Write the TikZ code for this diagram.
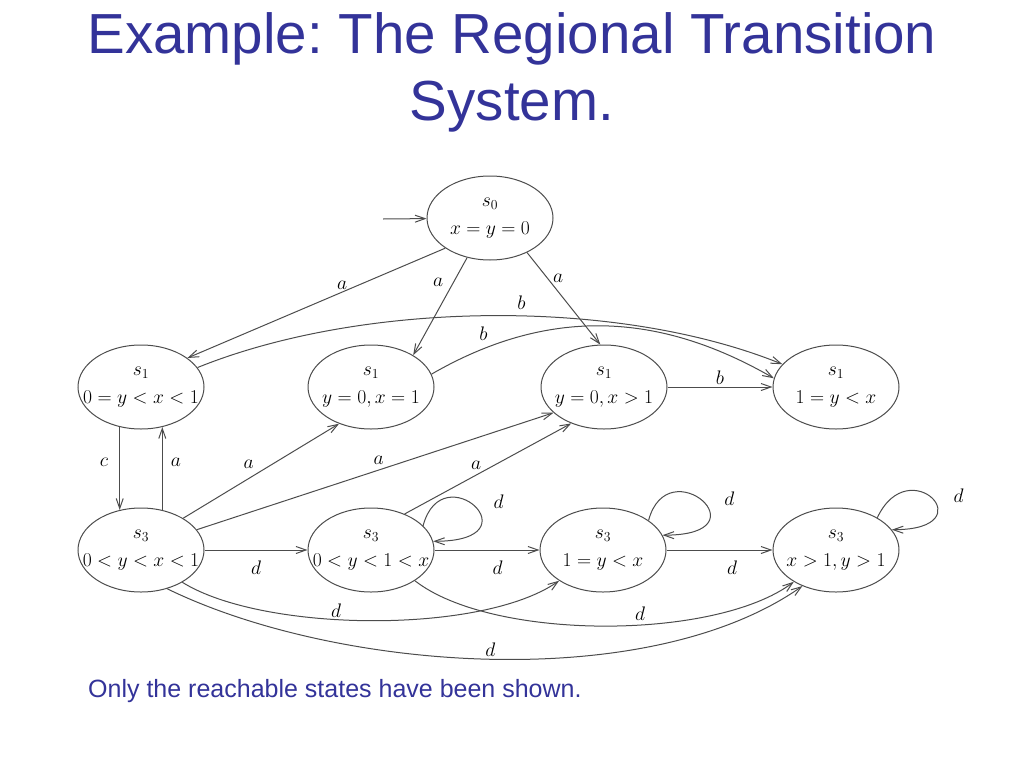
\documentclass[tikz,border=0pt]{standalone}
\usepackage{fix-cm}
\usepackage{fontspec}
\newfontfamily\slidefont{Liberation Sans}
\usetikzlibrary{positioning}
\usetikzlibrary{shapes.geometric}
\usetikzlibrary{arrows.meta}
\definecolor{slideblue}{RGB}{51,51,153}
\newcommand\diagfont{\fontsize{19.6}{28}\selectfont}
\frenchspacing
\tikzset{
  region/.style={ellipse, draw=black!70, line width=1pt, minimum width=126pt,
    minimum height=84pt, inner xsep=-45pt, inner ysep=0pt, align=center, font=\diagfont},
  trans/.style={draw=black!70, line width=1pt, -{Straight Barb[length=10pt,width=7pt]}},
  lbl/.style={inner sep=2pt, font=\diagfont},
  selfloop/.style={out=75, in=0, out distance=75pt, in distance=105pt},
  title/.style={font={\slidefont\fontsize{56.5}{67}\selectfont}, text=slideblue,
    align=center, inner sep=0pt},
  remark/.style={font={\slidefont\fontsize{25}{30}\selectfont}, text=slideblue, inner sep=0pt}
}

\begin{document}
\begin{tikzpicture}[x=1pt,y=1pt]
\useasboundingbox (0,0) rectangle (1024,-768);
\node[title, anchor=north] (head) at (512,-12) {Example: The Regional Transition\\System.};
\node[region] (s0)  at (490,-218) {$s_0$\\$x = y = 0$};
\node[region] (s1a) at (141,-387) {$s_1$\\$0 = y < x < 1$};
\node[region] (s1b) at (371,-387) {$s_1$\\$y = 0, x = 1$};
\node[region] (s1c) at (604,-387) {$s_1$\\$y = 0, x > 1$};
\node[region] (s1d) at (836,-387) {$s_1$\\$1 = y < x$};
\node[region] (s3a) at (141,-550) {$s_3$\\$0 < y < x < 1$};
\node[region] (s3b) at (371,-550) {$s_3$\\$0 < y < 1 < x$};
\node[region] (s3c) at (603,-550) {$s_3$\\$1 = y < x$};
\node[region] (s3d) at (836,-550) {$s_3$\\$x > 1, y > 1$};
\coordinate (init) at (383,-219);
\node[remark, anchor=base west] (foot) at (88,-697) {Only the reachable states have been shown.};

\draw[trans] (init) -- (s0);
\draw[trans] (s0.214) -- node[lbl, pos=0.4, above] (l1) {$a$} (s1a.32);
\draw[trans] (s0.240) -- node[lbl, pos=0.25, left=8pt] (l2) {$a$} (s1b.37);
\draw[trans] (s0.317) -- node[lbl, pos=0.28, right=3pt] (l3) {$a$} (s1c.95);
\draw[trans] (s1a.19) to[out=22, in=158, looseness=0.78]
  node[lbl, pos=0.55, above=4pt] (l4) {$b$} (s1d.157);
\draw[trans] (s1b.12) to[out=30, in=150]
  node[lbl, pos=0.15, above=6pt] (l5) {$b$} (s1d.172);
\draw[trans] (s1c) -- node[lbl, above] (l6) {$b$} (s1d);
\draw[trans] (s1a.242) -- node[lbl, pos=0.43, left=9pt] (l7) {$c$} (s3a.118);
\draw[trans] (s3a.62) -- node[lbl, pos=0.57, right=6pt] (l8) {$a$} (s1a.298);
\draw[trans] (s3a.37) -- node[lbl, pos=0.42, above=8pt] (l9) {$a$} (s1b.229);
\draw[trans] (s3a.20) -- node[lbl, pos=0.51, above=3pt] (l10) {$a$} (s1c.207);
\draw[trans] (s3b.47) -- node[lbl, pos=0.43, above=3pt] (l11) {$a$} (s1c.228);
\draw[trans] (s3b.25) to[selfloop]
  node[lbl, pos=0.55, above right=-1pt and 13pt] (l12) {$d$} (s3b.8);
\draw[trans] (s3c.33) to[selfloop]
  node[lbl, pos=0.55, above right=-3pt and 16pt] (l13) {$d$} (s3c.14);
\draw[trans] (s3d.38) to[selfloop, out=65, in distance=95pt]
  node[lbl, pos=0.55, above right=-3pt and 16pt] (l14) {$d$} (s3d.20);
\draw[trans] (s3a) -- node[lbl, below=8pt] (l15) {$d$} (s3b);
\draw[trans] (s3b) -- node[lbl, pos=0.6, below=8pt] (l16) {$d$} (s3c);
\draw[trans] (s3c) -- node[lbl, pos=0.62, below=8pt] (l17) {$d$} (s3d);
\draw[trans] (s3a.322) to[out=-32, in=215, looseness=0.64]
  node[lbl, pos=0.42, above] (l18) {$d$} (s3c.215);
\draw[trans] (s3b.325) to[out=-38, in=217, looseness=0.66]
  node[lbl, pos=0.58, above=2pt] (l19) {$d$} (s3d.217);
\draw[trans] (s3a.304) to[out=-26, in=215, looseness=0.76]
  node[lbl, pos=0.5, above] (l20) {$d$} (s3d.227);
\end{tikzpicture}
\end{document}
